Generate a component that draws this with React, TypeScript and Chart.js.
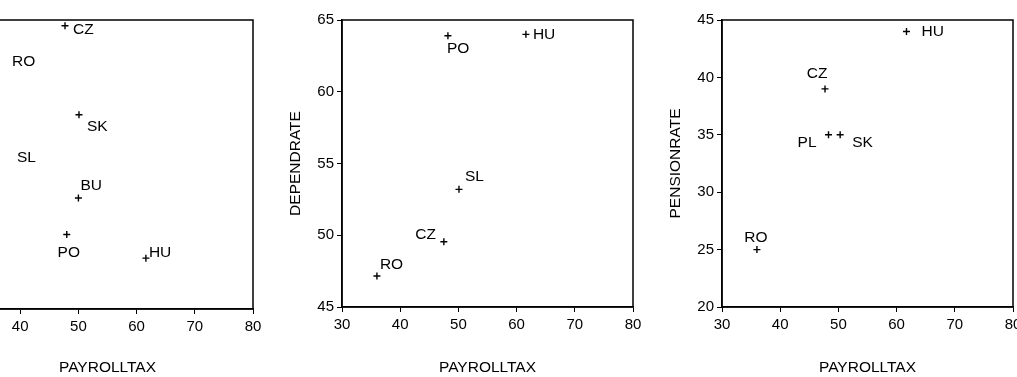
import React, { useEffect, useRef } from "react";
import { Chart, registerables } from "chart.js";

Chart.register(...registerables);

// ---- data ----
const xTickValues = [30, 40, 50, 60, 70, 80];

const codes1 = ["CZ", "RO", "SK", "SL", "BU", "PO", "HU"];
const payrollTax1 = [47.7, 35.5, 50.1, 35.5, 50.0, 48.0, 61.6];
const benefitRate1 = [49.0, 42.7, 33.6, 26.1, 19.2, 12.9, 8.8];

const codes2 = ["PO", "HU", "SL", "CZ", "RO"];
const payrollTax2 = [48.2, 61.6, 50.1, 47.5, 36.0];
const dependRate = [63.9, 64.0, 53.2, 49.55, 47.16];

const codes3 = ["HU", "CZ", "PL", "SK", "RO"];
const payrollTax3 = [61.7, 47.7, 48.3, 50.3, 36.0];
const pensionRate = [44.0, 39.0, 35.0, 35.0, 25.0];

// label placement relative to each point: [dx, dy, align]
const place1: [number, number, CanvasTextAlign][] = [
  [8, 4, "left"], [18, 0, "left"], [8, 12, "left"], [23, 0, "left"],
  [2, -12, "left"], [2, 18, "center"], [3, -5, "left"],
];
const place2: [number, number, CanvasTextAlign][] = [
  [-1, 13, "left"], [7, 0, "left"], [6, -13, "left"], [-8, -7, "right"], [3, -11, "left"],
];
const place3: [number, number, CanvasTextAlign][] = [
  [15, 0, "left"], [-8, -15, "center"], [-12, 8, "right"], [12, 8, "left"], [-1, -12, "center"],
];

const FONT = "'Liberation Sans', Arial, sans-serif";

type Panel = {
  left: number;
  xs: number[];
  ys: number[];
  codes: string[];
  place: [number, number, CanvasTextAlign][];
  yMin: number;
  yMax: number;
  yStep: number;
  yTitle: string;
  xHeight: number;
};

const panels: Panel[] = [
  { left: -110, xs: payrollTax1, ys: benefitRate1, codes: codes1, place: place1, yMin: 0, yMax: 50, yStep: 10, yTitle: "BENEFITRATE", xHeight: 68 },
  { left: 270, xs: payrollTax2, ys: dependRate, codes: codes2, place: place2, yMin: 45, yMax: 65, yStep: 5, yTitle: "DEPENDRATE", xHeight: 70 },
  { left: 650, xs: payrollTax3, ys: pensionRate, codes: codes3, place: place3, yMin: 20, yMax: 45, yStep: 5, yTitle: "PENSIONRATE", xHeight: 70 },
];

function ScatterPanel({ p }: { p: Panel }) {
  const ref = useRef<HTMLCanvasElement | null>(null);
  useEffect(() => {
    if (!ref.current) return;
    const framePlugin = {
      id: "frameAndLabels",
      afterDatasetsDraw(chart: any) {
        const ctx = chart.ctx;
        const { left, top, right, bottom } = chart.chartArea;
        ctx.save();
        ctx.strokeStyle = "#000";
        ctx.lineWidth = 1.5;
        ctx.strokeRect(left, top, right - left, bottom - top);
        ctx.fillStyle = "#000";
        ctx.font = `15.5px ${FONT}`;
        ctx.textBaseline = "middle";
        const meta = chart.getDatasetMeta(0);
        meta.data.forEach((pt: any, i: number) => {
          const [dx, dy, align] = p.place[i];
          ctx.textAlign = align;
          ctx.fillText(p.codes[i], pt.x + dx, pt.y + dy);
        });
        ctx.restore();
      },
    };
    const chart = new Chart(ref.current, {
      type: "scatter",
      data: {
        datasets: [
          {
            data: p.xs.map((x, i) => ({ x, y: p.ys[i] })),
            pointStyle: "cross",
            pointRadius: 3.5,
            pointBorderWidth: 1.4,
            borderColor: "#000",
            backgroundColor: "#000",
          },
        ],
      },
      options: {
        responsive: false,
        animation: false,
        devicePixelRatio: 1,
        layout: { padding: { left: 10, right: 17, top: 20, bottom: 0 } },
        plugins: { legend: { display: false }, tooltip: { enabled: false } },
        scales: {
          x: {
            type: "linear",
            min: 30,
            max: 80,
            afterBuildTicks: (s: any) => {
              s.ticks = xTickValues.map((v) => ({ value: v }));
            },
            afterFit: (s: any) => {
              s.height = p.xHeight;
            },
            ticks: {
              color: "#000",
              font: { size: 15, family: FONT },
              padding: 4,
              autoSkip: false,
              maxRotation: 0,
            },
            grid: { display: true, drawOnChartArea: false, drawTicks: true, tickLength: 5, color: "#000", lineWidth: 1 },
            border: { display: true, color: "#000", width: 1.5 },
            title: {
              display: true,
              text: "PAYROLLTAX",
              color: "#000",
              font: { size: 15.5, family: FONT },
              padding: { top: 0, bottom: 0 },
            },
          },
          y: {
            type: "linear",
            min: p.yMin,
            max: p.yMax,
            afterFit: (s: any) => {
              s.width = 62;
            },
            ticks: {
              stepSize: p.yStep,
              color: "#000",
              font: { size: 15, family: FONT },
              padding: 3,
              autoSkip: false,
            },
            grid: { display: true, drawOnChartArea: false, drawTicks: true, tickLength: 5, color: "#000", lineWidth: 1 },
            border: { display: true, color: "#000", width: 1.5 },
            title: {
              display: true,
              text: p.yTitle,
              color: "#000",
              font: { size: 15.5, family: FONT },
              padding: { top: 6, bottom: 0 },
            },
          },
        },
      },
      plugins: [framePlugin],
    });
    return () => chart.destroy();
  }, [p]);
  return (
    <canvas
      ref={ref}
      width={380}
      height={377}
      style={{ position: "absolute", left: p.left, top: 0, width: 380, height: 377 }}
    />
  );
}

export default function App() {
  return (
    <div
      style={{
        position: "fixed",
        left: 0,
        top: 0,
        width: 1017,
        height: 377,
        overflow: "hidden",
        background: "#fff",
      }}
    >
      {panels.map((p, i) => (
        <ScatterPanel key={i} p={p} />
      ))}
    </div>
  );
}
